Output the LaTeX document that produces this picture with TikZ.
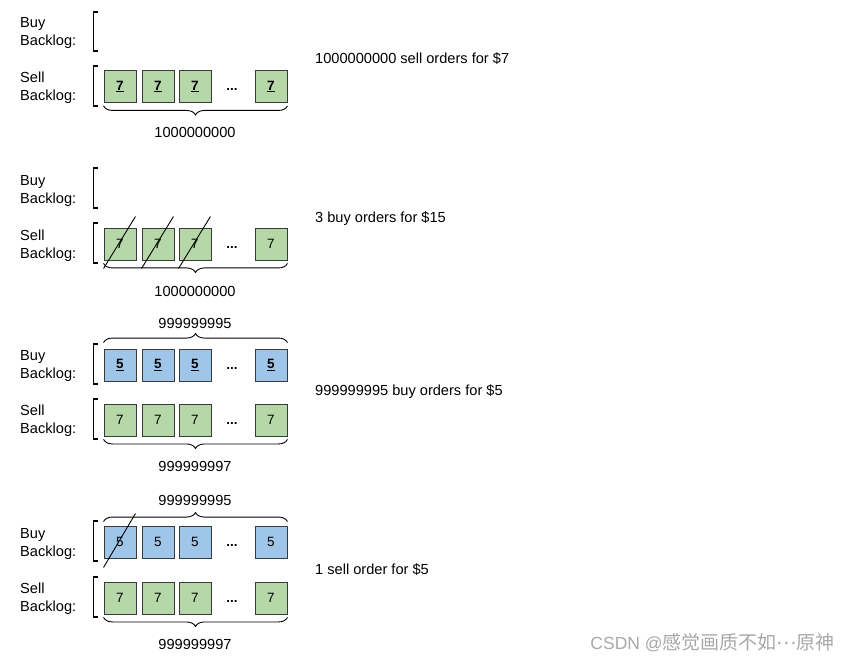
\documentclass[tikz,border=0pt]{standalone}
\usepackage{fontspec}
\setmainfont{Liberation Sans}
\newfontfamily\cjk{Noto Sans CJK SC}
\usetikzlibrary{decorations.pathreplacing,calc}
\definecolor{gfill}{HTML}{B6D7A8}
\definecolor{bfill}{HTML}{9FC5E8}
\definecolor{edgec}{HTML}{3A3A3A}
\definecolor{wmark}{HTML}{A8A8A8}
\newcommand\orderrow[4]{%
  \node[#3] (#1a) at (120,#2) {#4};
  \node[#3] (#1b) at (158,#2) {#4};
  \node[#3] (#1c) at (195,#2) {#4};
  \node[dotsnode] (#1d) at (232,#2+3) {\textbf{...}};
  \node[#3] (#1e) at (271,#2) {#4};}
\newcommand\bracketat[2]{\draw[brk] (98,#1) -- (93.5,#1) -- (93.5,#2) -- (98,#2);}
\newcommand\ul[1]{\underline{\textbf{#1}}}
\begin{document}
\begin{tikzpicture}[x=1pt,y=-1pt,
  order/.style={draw=edgec, line width=0.9pt, minimum width=32pt, minimum height=32pt, inner sep=0pt, font=\fontsize{13.5}{16}\selectfont},
  sell/.style={order, fill=gfill},
  buy/.style={order, fill=bfill},
  dotsnode/.style={inner sep=0pt, font=\fontsize{13.5}{16}\selectfont},
  lbl/.style={anchor=west, align=left, inner sep=0pt, font=\fontsize{14.6}{18}\selectfont},
  txt/.style={anchor=west, inner sep=0pt, font=\fontsize{14.6}{18}\selectfont},
  cnt/.style={inner sep=0pt, font=\fontsize{14.6}{18}\selectfont},
  brk/.style={line width=1.8pt},
  brc/.style={decorate, decoration={brace, amplitude=9pt}, line width=0.9pt},
  slash/.style={line width=0.9pt}]
\useasboundingbox (0,0) rectangle (849,663);

% ---------- panel 1
\node[lbl] (b1) at (20,33) {Buy\\Backlog:};
\node[lbl] (s1) at (20,88) {Sell\\Backlog:};
\bracketat{12}{51}
\bracketat{66}{106}
\orderrow{p1s}{86.5}{sell}{\ul{7}}
\draw[brc,decoration={mirror}] ($(p1sa.south west)+(0,3)$) -- ($(p1se.south east)+(0,3)$);
\node[cnt] (n1) at (195,132) {1000000000};
\node[txt] (t1) at (315,59) {1000000000 sell orders for \$7};

% ---------- panel 2
\node[lbl] (b2) at (20,191) {Buy\\Backlog:};
\node[lbl] (s2) at (20,246) {Sell\\Backlog:};
\bracketat{168}{208}
\bracketat{223}{263}
\orderrow{p2s}{244}{sell}{7}
\draw[brc,decoration={mirror}] ($(p2sa.south west)+(0,3)$) -- ($(p2se.south east)+(0,3)$);
\node[cnt] (n2) at (195,291) {1000000000};
\node[txt] (t2) at (315,219) {3 buy orders for \$15};
\foreach \n in {p2sa,p2sb,p2sc}
  \draw[slash] ($(\n.south west)+(0,8)$) -- ($(\n.north east)+(-1,-11)$);

% ---------- panel 3
\node[cnt] (n3a) at (195,323) {999999995};
\node[lbl] (b3) at (20,366) {Buy\\Backlog:};
\node[lbl] (s3) at (20,421) {Sell\\Backlog:};
\bracketat{344}{384}
\bracketat{399}{439}
\orderrow{p3b}{365}{buy}{\ul{5}}
\orderrow{p3s}{420}{sell}{7}
\draw[brc] ($(p3ba.north west)+(0,-6)$) -- ($(p3be.north east)+(0,-6)$);
\draw[brc,decoration={mirror}] ($(p3sa.south west)+(0,3)$) -- ($(p3se.south east)+(0,3)$);
\node[cnt] (n3b) at (195,466) {999999997};
\node[txt] (t3) at (315,392) {999999995 buy orders for \$5};

% ---------- panel 4
\node[cnt] (n4a) at (195,500) {999999995};
\node[lbl] (b4) at (20,544) {Buy\\Backlog:};
\node[lbl] (s4) at (20,599) {Sell\\Backlog:};
\bracketat{521}{561}
\bracketat{577}{617}
\orderrow{p4b}{542}{buy}{5}
\orderrow{p4s}{598}{sell}{7}
\draw[brc] ($(p4ba.north west)+(0,-4)$) -- ($(p4be.north east)+(0,-4)$);
\draw[brc,decoration={mirror}] ($(p4sa.south west)+(0,3)$) -- ($(p4se.south east)+(0,3)$);
\node[cnt] (n4b) at (195,644) {999999997};
\node[txt] (t4) at (315,570) {1 sell order for \$5};
\draw[slash] ($(p4ba.south west)+(0,9)$) -- ($(p4ba.north east)+(-1,-12)$);

% ---------- watermark
\node[anchor=east, inner sep=0pt, text=wmark, font=\fontsize{17.5}{19}\selectfont] (wm) at (835,643) {CSDN @{\cjk\fontsize{19}{21}\selectfont 感觉画质不如\raisebox{0.3em}{…}原神}};
\end{tikzpicture}
\end{document}
